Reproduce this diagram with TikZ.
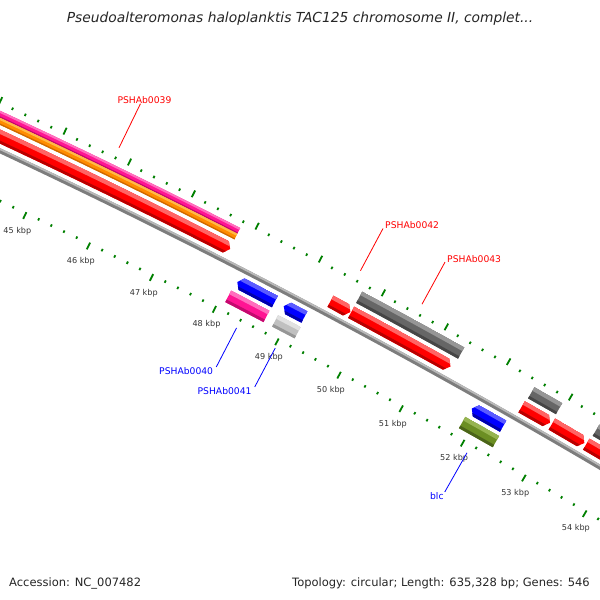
\documentclass[tikz,border=0pt]{standalone}
\usepackage{fontspec}
\setmainfont{DejaVu Sans}
\definecolor{tickgreen}{RGB}{0,128,0}
\definecolor{fred}{RGB}{255,0,0}\definecolor{fredL}{RGB}{255,100,100}\definecolor{fredD}{RGB}{185,0,0}
\definecolor{fpink}{RGB}{255,20,147}\definecolor{fpinkL}{RGB}{255,110,190}\definecolor{fpinkD}{RGB}{195,10,110}
\definecolor{forange}{RGB}{255,140,0}\definecolor{forangeL}{RGB}{255,185,70}\definecolor{forangeD}{RGB}{205,105,0}
\definecolor{fblue}{RGB}{0,0,255}\definecolor{fblueL}{RGB}{90,90,255}\definecolor{fblueD}{RGB}{0,0,170}
\definecolor{fdgray}{RGB}{102,102,102}\definecolor{fdgrayL}{RGB}{150,150,150}\definecolor{fdgrayD}{RGB}{70,70,70}
\definecolor{flgray}{RGB}{192,192,192}\definecolor{flgrayL}{RGB}{225,225,225}\definecolor{flgrayD}{RGB}{150,150,150}
\definecolor{folive}{RGB}{107,142,35}\definecolor{foliveL}{RGB}{150,180,80}\definecolor{foliveD}{RGB}{75,100,25}
\definecolor{bb}{RGB}{125,125,125}\definecolor{bbL}{RGB}{185,185,185}
\newcommand\A[1]{90-(#1)*0.566638}
\newcommand\sect[4]{({\A{#1}}:#3) arc[start angle={\A{#1}}, end angle={\A{#2}}, radius=#3] -- ({\A{#2}}:#4) arc[start angle={\A{#2}}, end angle={\A{#1}}, radius=#4] -- cycle}
\newcommand\feature[6]{%
 \pgfmathsetmacro\rmid{(#3+#4)/2}%
 \pgfmathsetmacro\rtop{#4-0.32*(#4-#3)}%
 \pgfmathsetmacro\rbot{#3+0.22*(#4-#3)}%
 \pgfmathsetmacro\sh{#1+0.07}%
 \pgfmathsetmacro\eh{#2-0.07}%
 \pgfmathsetmacro\sa{#1-0.3}%
 \pgfmathsetmacro\eb{#2+0.3}%
 \ifcase#6\relax
   \def\shp{\sect{#1}{#2}{#3}{#4}}%
 \or
   \def\shp{({\A{#1}}:#3) arc[start angle={\A{#1}}, end angle={\A{\eh}}, radius=#3] -- ({\A{#2}}:\rmid) -- ({\A{\eh}}:#4) arc[start angle={\A{\eh}}, end angle={\A{#1}}, radius=#4] -- cycle}%
 \or
   \def\shp{({\A{#1}}:\rmid) -- ({\A{\sh}}:#3) arc[start angle={\A{\sh}}, end angle={\A{#2}}, radius=#3] -- ({\A{#2}}:#4) arc[start angle={\A{#2}}, end angle={\A{\sh}}, radius=#4] -- cycle}%
 \fi
 \begin{scope}
  \clip \shp;
  \fill[#5] \sect{\sa}{\eb}{#3}{#4};
  \fill[#5L] \sect{\sa}{\eb}{\rtop}{#4};
  \fill[#5D] \sect{\sa}{\eb}{#3}{\rbot};
 \end{scope}}
\tikzset{
 tick/.style={draw=tickgreen, line width=1.8},
 kbplab/.style={font=\fontsize{8.1}{9}\selectfont, text=black!80, inner sep=0},
 glabR/.style={font=\fontsize{9.2}{11}\selectfont, text=red, inner sep=0},
 glabB/.style={font=\fontsize{9.2}{11}\selectfont, text=blue, inner sep=0},
 lineR/.style={draw=red, line width=0.8},
 lineB/.style={draw=blue, line width=0.8},
}
\begin{document}
\begin{tikzpicture}[x=1pt,y=1pt]
\useasboundingbox (0,0) rectangle (600,-600);
\fill[white] (0,0) rectangle (600,-600);
\begin{scope}
\clip (0,0) rectangle (600,-600);
\begin{scope}[shift={(-3044,-6650)}]
 % backbone
 \fill[bb] \sect{42}{57}{7174.6}{7179.4};
 \fill[bbL] \sect{42}{57}{7177.6}{7179.4};
 % forward strand, track near backbone
 \feature{40}{47.81}{7183.5}{7196.5}{fred}{1}
 \feature{49.40}{49.72}{7183.5}{7196.5}{fred}{1}
 \feature{49.73}{51.32}{7183.5}{7196.5}{fred}{1}
 \feature{52.47}{52.93}{7183.5}{7196.5}{fred}{1}
 \feature{52.96}{53.49}{7183.5}{7196.5}{fred}{1}
 \feature{53.52}{57.5}{7183.5}{7196.5}{fred}{1}
 % forward strand, outer track
 \feature{40}{47.80}{7207}{7213.5}{fpink}{0}
 \feature{40}{47.80}{7200.5}{7207}{forange}{0}
 \feature{49.73}{51.36}{7200.5}{7213.5}{fdgray}{0}
 \feature{52.49}{52.94}{7200.5}{7213.5}{fdgray}{0}
 \feature{53.54}{57.5}{7200.5}{7213.5}{fdgray}{0}
 % reverse strand
 \feature{48.11}{48.71}{7157.5}{7170.5}{fblue}{2}
 \feature{48.85}{49.18}{7157.5}{7170.5}{fblue}{2}
 \feature{51.87}{52.38}{7157.5}{7170.5}{fblue}{2}
 \feature{48.09}{48.70}{7140.5}{7153.5}{fpink}{0}
 \feature{48.84}{49.20}{7140.5}{7153.5}{flgray}{0}
 \feature{51.85}{52.40}{7140.5}{7153.5}{folive}{0}
 % ticks
 \foreach \i in {212,...,282}{
   \pgfmathsetmacro\k{\i/5}
   \pgfmathtruncatemacro\m{mod(\i,5)}
   \ifnum\m=0 \def\L{7.5}\else\def\L{2.6}\fi
   \pgfmathsetmacro\ro{7219+\L}
   \pgfmathsetmacro\ri{7133-\L}
   \draw[tick] ({\A{\k}}:7219) -- ({\A{\k}}:\ro);
   \draw[tick] ({\A{\k}}:7133) -- ({\A{\k}}:\ri);
 }
 \foreach \k in {45,...,54}{
   \node[kbplab] (kb\k) at ({\A{\k}}:7112) {\k\ kbp};
 }
 % gene labels
 \coordinate (a39) at ({\A{45.78}}:7231); \coordinate (b39) at ({\A{45.78}}:7280);
 \coordinate (a42) at ({\A{49.57}}:7231); \coordinate (b42) at ({\A{49.57}}:7279);
 \coordinate (a43) at ({\A{50.55}}:7231); \coordinate (b43) at ({\A{50.55}}:7279);
 \coordinate (a40) at ({\A{48.40}}:7123); \coordinate (b40) at ({\A{48.40}}:7079);
 \coordinate (a41) at ({\A{49.02}}:7123); \coordinate (b41) at ({\A{49.02}}:7079);
 \coordinate (ablc) at ({\A{52.12}}:7123); \coordinate (bblc) at ({\A{52.12}}:7078);
 \draw[lineR] (a39) -- (b39);
 \draw[lineR] (a42) -- (b42);
 \draw[lineR] (a43) -- (b43);
 \draw[lineB] (a40) -- (b40);
 \draw[lineB] (a41) -- (b41);
 \draw[lineB] (ablc) -- (bblc);
 \node[glabR, anchor=base, xshift=4] (t39) at (b39) {PSHAb0039};
 \node[glabR, anchor=base west, xshift=2] (t42) at (b42) {PSHAb0042};
 \node[glabR, anchor=base west, xshift=2] (t43) at (b43) {PSHAb0043};
 \node[glabB, anchor=north east, xshift=-3] (t40) at (b40) {PSHAb0040};
 \node[glabB, anchor=north east, xshift=-3] (t41) at (b41) {PSHAb0041};
 \node[glabB, anchor=north east, xshift=-1] (tblc) at (bblc) {blc};
\end{scope}
\end{scope}
\node[anchor=base, font=\fontsize{13.8}{16}\selectfont\itshape, text=black!85, inner sep=0] (title) at (300,-22.5) {Pseudoalteromonas haloplanktis TAC125 chromosome II, complet...};
\node[anchor=base west, font=\fontsize{11.5}{14}\selectfont, text=black!85, inner sep=0] (acc) at (9,-586) {Accession: NC\_007482};
\node[anchor=base east, font=\fontsize{11.5}{14}\selectfont, text=black!85, inner sep=0] (topo) at (590,-586) {Topology: circular; Length: 635,328 bp; Genes: 546};
\end{tikzpicture}
\end{document}
